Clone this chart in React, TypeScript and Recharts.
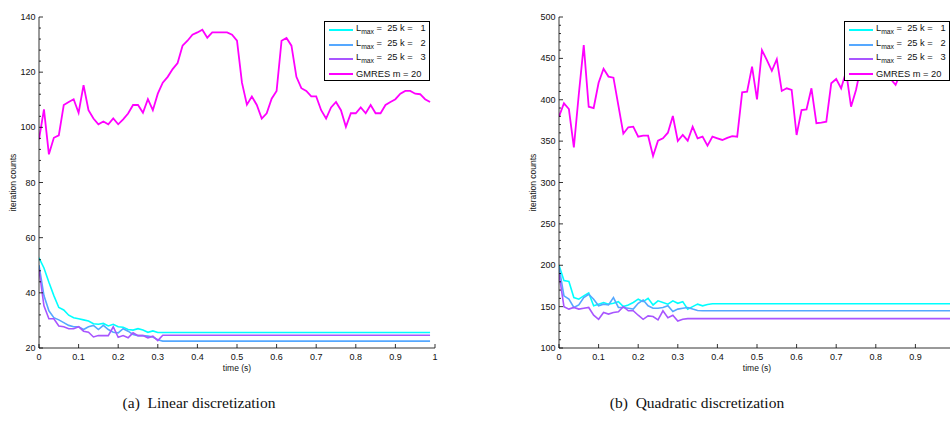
import React from 'react';
import { LineChart, Line, XAxis, YAxis, Legend, Label } from 'recharts';

// ---------- data ----------
const time = [
  0, 0.0125, 0.025, 0.0375, 0.05, 0.0625, 0.075, 0.0875, 0.1, 0.1125,
  0.125, 0.1375, 0.15, 0.1625, 0.175, 0.1875, 0.2, 0.2125, 0.225, 0.2375,
  0.25, 0.2625, 0.275, 0.2875, 0.3, 0.3125, 0.325, 0.3375, 0.35, 0.3625,
  0.375, 0.3875, 0.4, 0.4125, 0.425, 0.4375, 0.45, 0.4625, 0.475, 0.4875,
  0.5, 0.5125, 0.525, 0.5375, 0.55, 0.5625, 0.575, 0.5875, 0.6, 0.6125,
  0.625, 0.6375, 0.65, 0.6625, 0.675, 0.6875, 0.7, 0.7125, 0.725, 0.7375,
  0.75, 0.7625, 0.775, 0.7875, 0.8, 0.8125, 0.825, 0.8375, 0.85, 0.8625,
  0.875, 0.8875, 0.9, 0.9125, 0.925, 0.9375, 0.95, 0.9625, 0.975, 0.9875,
];

// (a) Linear discretization
const leftK1 = [
  52.7, 49, 43.8, 39, 34.7, 33.8, 31.9, 31, 30.6, 30.2,
  29.8, 28.8, 28.6, 28.9, 28, 28.6, 27.7, 27.5, 26.7, 26.5,
  27, 26.5, 25.7, 26.2, 25.6, 25.6, 25.6, 25.6, 25.6, 25.6,
  25.6, 25.6, 25.6, 25.6, 25.6, 25.6, 25.6, 25.6, 25.6, 25.6,
  25.6, 25.6, 25.6, 25.6, 25.6, 25.6, 25.6, 25.6, 25.6, 25.6,
  25.6, 25.6, 25.6, 25.6, 25.6, 25.6, 25.6, 25.6, 25.6, 25.6,
  25.6, 25.6, 25.6, 25.6, 25.6, 25.6, 25.6, 25.6, 25.6, 25.6,
  25.6, 25.6, 25.6, 25.6, 25.6, 25.6, 25.6, 25.6, 25.6, 25.6,
];
const leftK2 = [
  50, 39, 33.5, 31, 30.2, 29.2, 28.2, 27.7, 27.7, 26.7,
  27.7, 28.2, 26.7, 28.2, 26.7, 25.7, 25.5, 27, 26.1, 24.9,
  24.5, 24.5, 24.3, 24, 23, 22.5, 22.5, 22.5, 22.5, 22.5,
  22.5, 22.5, 22.5, 22.5, 22.5, 22.5, 22.5, 22.5, 22.5, 22.5,
  22.5, 22.5, 22.5, 22.5, 22.5, 22.5, 22.5, 22.5, 22.5, 22.5,
  22.5, 22.5, 22.5, 22.5, 22.5, 22.5, 22.5, 22.5, 22.5, 22.5,
  22.5, 22.5, 22.5, 22.5, 22.5, 22.5, 22.5, 22.5, 22.5, 22.5,
  22.5, 22.5, 22.5, 22.5, 22.5, 22.5, 22.5, 22.5, 22.5, 22.5,
];
const leftK3 = [
  48.5, 35.3, 30.6, 30.6, 28, 27.7, 27, 27, 27.7, 26.1,
  25.7, 24, 24.5, 24.5, 24.5, 27.7, 23.9, 24.5, 23.7, 25.5,
  24.5, 24.5, 23.7, 24.3, 22.7, 24.6, 24.6, 24.6, 24.6, 24.6,
  24.6, 24.6, 24.6, 24.6, 24.6, 24.6, 24.6, 24.6, 24.6, 24.6,
  24.6, 24.6, 24.6, 24.6, 24.6, 24.6, 24.6, 24.6, 24.6, 24.6,
  24.6, 24.6, 24.6, 24.6, 24.6, 24.6, 24.6, 24.6, 24.6, 24.6,
  24.6, 24.6, 24.6, 24.6, 24.6, 24.6, 24.6, 24.6, 24.6, 24.6,
  24.6, 24.6, 24.6, 24.6, 24.6, 24.6, 24.6, 24.6, 24.6, 24.6,
];
const leftGmres = [
  95.6, 106.5, 90.2, 96.2, 97.1, 108.1, 109.2, 110.2, 105.3, 115.3,
  106.2, 103.2, 101.1, 102.1, 101.1, 103.2, 101.1, 102.9, 105.0, 108.1,
  108.1, 105.3, 110.2, 106.2, 112.2, 116.2, 118.3, 121.1, 123.3, 129.6,
  131.4, 133.6, 134.4, 135.4, 132.5, 134.4, 134.4, 134.4, 134.4, 133.6,
  131.4, 116.2, 108.2, 111.2, 108.1, 103.2, 105.1, 110.4, 113.2, 131.4,
  132.4, 129.6, 118.3, 114.2, 113.2, 111.2, 111.2, 106.2, 103.2, 107.2,
  109.2, 106.2, 100.2, 105.1, 105.1, 107.2, 105.1, 108.1, 105.1, 105.1,
  108.1, 109.2, 110.2, 112.2, 113.2, 113.2, 112.2, 112.0, 110.2, 109.2,
];

// (b) Quadratic discretization
const rightK1 = [
  200, 181.6, 180.4, 161, 159, 163, 166.5, 151, 153, 155,
  153, 154, 156, 150, 152, 155, 159, 156, 160, 152,
  157, 155, 153, 157, 154, 156, 147, 150, 153, 151,
  152.6, 153.5, 153.5, 153.5, 153.5, 153.5, 153.5, 153.5, 153.5, 153.5,
  153.5, 153.5, 153.5, 153.5, 153.5, 153.5, 153.5, 153.5, 153.5, 153.5,
  153.5, 153.5, 153.5, 153.5, 153.5, 153.5, 153.5, 153.5, 153.5, 153.5,
  153.5, 153.5, 153.5, 153.5, 153.5, 153.5, 153.5, 153.5, 153.5, 153.5,
  153.5, 153.5, 153.5, 153.5, 153.5, 153.5, 153.5, 153.5, 153.5, 153.5,
];
const rightK2 = [
  198, 163, 159, 149, 152, 161, 165, 159, 151, 153,
  152, 161, 149, 149, 148, 147, 154, 158, 151, 148,
  148, 149, 151, 144, 147, 148, 149, 147, 145.3, 145,
  145, 145, 145, 145, 145, 145, 145, 145, 145, 145,
  145, 145, 145, 145, 145, 145, 145, 145, 145, 145,
  145, 145, 145, 145, 145, 145, 145, 145, 145, 145,
  145, 145, 145, 145, 145, 145, 145, 145, 145, 145,
  145, 145, 145, 145, 145, 145, 145, 145, 145, 145,
];
const rightK3 = [
  190, 150, 147, 149, 147, 148, 149, 139.6, 134.7, 143,
  141, 143, 143.7, 150, 145, 145, 139.6, 134.7, 138.8, 138,
  134, 145, 136.7, 139.6, 132.6, 134.7, 135.5, 135.5, 135.5, 135.5,
  135.5, 135.5, 135.5, 135.5, 135.5, 135.5, 135.5, 135.5, 135.5, 135.5,
  135.5, 135.5, 135.5, 135.5, 135.5, 135.5, 135.5, 135.5, 135.5, 135.5,
  135.5, 135.5, 135.5, 135.5, 135.5, 135.5, 135.5, 135.5, 135.5, 135.5,
  135.5, 135.5, 135.5, 135.5, 135.5, 135.5, 135.5, 135.5, 135.5, 135.5,
  135.5, 135.5, 135.5, 135.5, 135.5, 135.5, 135.5, 135.5, 135.5, 135.5,
];
const rightGmres = [
  379.5, 395.7, 388.8, 342.5, 406.6, 466, 391.6, 390, 420.6, 437.5,
  428, 426.7, 393, 359, 366.7, 367.5, 355.4, 356.6, 356.6, 332,
  350.5, 353.4, 360.2, 380.4, 350.2, 357.4, 350.5, 367.5, 353.4, 355.4,
  344.5, 355.4, 353.4, 351.4, 354, 356, 355.4, 409, 409.8, 440,
  400.5, 460, 448, 435, 449, 410.6, 413.8, 411.8, 357.4, 387.6,
  388.4, 413.8, 371.6, 372.4, 373.5, 419.9, 425.1, 413.8, 434, 391.6,
  411.8, 440, 455, 445, 430, 450, 438, 425, 418, 432,
  445, 452, 440, 448, 460, 450, 442, 455, 447, 438,
];

const xTicks = [0, 0.1, 0.2, 0.3, 0.4, 0.5, 0.6, 0.7, 0.8, 0.9, 1];
const leftXTickLabels = ['0', '0.1', '0.2', '0.3', '0.4', '0.5', '0.6', '0.7', '0.8', '0.9', '1'];
// the right panel's last tick label falls outside the picture
const rightXTickLabels = ['0', '0.1', '0.2', '0.3', '0.4', '0.5', '0.6', '0.7', '0.8', '0.9', ''];

const leftYTicks = [
  20, 24, 28, 32, 36, 40, 44, 48, 52, 56, 60, 64, 68, 72, 76, 80,
  84, 88, 92, 96, 100, 104, 108, 112, 116, 120, 124, 128, 132, 136, 140,
];
const leftYLabels = [20, 40, 60, 80, 100, 120, 140];
const rightYTicks = [
  100, 110, 120, 130, 140, 150, 160, 170, 180, 190, 200, 210, 220, 230, 240,
  250, 260, 270, 280, 290, 300, 310, 320, 330, 340, 350, 360, 370, 380, 390,
  400, 410, 420, 430, 440, 450, 460, 470, 480, 490, 500,
];
const rightYLabels = [100, 150, 200, 250, 300, 350, 400, 450, 500];

const seriesKeys = ['k1', 'k2', 'k3', 'g'];
const seriesColors = ['#00ffff', '#55a8ff', '#a855ff', '#ff00ff'];
const legendMain = ['L', 'L', 'L', 'GMRES m = 20'];
const legendSub = ['max', 'max', 'max', ''];
const legendRest = [' =  25 k =   1', ' =  25 k =   2', ' =  25 k =   3', ''];

const captions = ['(a)  Linear discretization', '(b)  Quadratic discretization'];

// ---------- helpers ----------
function buildRows(k1: number[], k2: number[], k3: number[], g: number[]) {
  return time.map((t, i) => ({ t, k1: k1[i], k2: k2[i], k3: k3[i], g: g[i] }));
}

const leftData = buildRows(leftK1, leftK2, leftK3, leftGmres);
const rightData = buildRows(rightK1, rightK2, rightK3, rightGmres);

const FONT = '"Liberation Sans", Arial, Helvetica, sans-serif';

const makeXTick = (labels: string[]) => (props: any) => {
  const { x, y, payload } = props;
  const i = xTicks.indexOf(payload.value);
  return (
    <g>
      <line x1={x} x2={x} y1={y} y2={y - 4} stroke="#000" strokeWidth={0.8} />
      {labels[i] && (
        <text x={x} y={y + 9} textAnchor="middle" dominantBaseline="central" fontSize={9} fontFamily={FONT} fill="#111">
          {labels[i]}
        </text>
      )}
    </g>
  );
};

const makeYTick = (labels: number[]) => (props: any) => {
  const { x, y, payload } = props;
  const major = labels.includes(payload.value);
  return (
    <g>
      <line x1={x} x2={x + (major ? 4 : 2)} y1={y} y2={y} stroke="#000" strokeWidth={0.8} />
      {major && (
        <text x={x - 3.5} y={y} textAnchor="end" dominantBaseline="central" fontSize={9} fontFamily={FONT} fill="#111">
          {payload.value}
        </text>
      )}
    </g>
  );
};

const renderLegend = () => (
  <div
    style={{
      boxSizing: 'border-box',
      width: 106,
      height: 60,
      border: '1px solid #000',
      background: '#fff',
      paddingTop: 1,
      fontFamily: FONT,
      fontSize: 9.3,
      color: '#111',
    }}
  >
    {seriesKeys.map((k, i) => (
      <div key={k} style={{ height: 14.5, display: 'flex', alignItems: 'center', whiteSpace: 'pre' }}>
        <div style={{ width: 24, height: 2, background: seriesColors[i], marginLeft: 4, marginRight: 3 }} />
        <span style={{ lineHeight: '10px' }}>
          {legendMain[i]}
          {legendSub[i] && <sub style={{ fontSize: 6.8, verticalAlign: -3 }}>{legendSub[i]}</sub>}
          {legendRest[i]}
        </span>
      </div>
    ))}
  </div>
);

function Panel(props: {
  data: any[];
  domain: [number, number];
  yTicks: number[];
  yLabels: number[];
  xLabels: string[];
  left: number;
}) {
  const { data, domain, yTicks, yLabels, xLabels, left } = props;
  const YTick = makeYTick(yLabels);
  const XTick = makeXTick(xLabels);
  return (
    <div style={{ position: 'absolute', left, top: 0 }}>
      <LineChart width={445} height={390} data={data} margin={{ top: 17, right: 10, bottom: 12, left: 8 }}>
        <XAxis
          dataKey="t"
          type="number"
          domain={[0, 1]}
          ticks={xTicks}
          interval={0}
          tickSize={0}
          tickMargin={0}
          tickLine={false}
          tick={XTick}
          axisLine={{ stroke: '#000', strokeWidth: 0.8 }}
          height={30}
          allowDataOverflow
        >
          <Label
            content={(p: any) => {
              const vb = p.viewBox;
              return (
                <text x={vb.x + vb.width / 2} y={vb.y + 20} textAnchor="middle" dominantBaseline="central" fontSize={8.5} fontFamily={FONT} fill="#111">
                  time (s)
                </text>
              );
            }}
          />
        </XAxis>
        <YAxis
          type="number"
          domain={domain}
          ticks={yTicks}
          interval={0}
          width={31}
          tickSize={0}
          tickMargin={0}
          tickLine={false}
          tick={YTick}
          axisLine={{ stroke: '#000', strokeWidth: 0.8 }}
          allowDataOverflow
        >
          <Label
            content={(p: any) => {
              const vb = p.viewBox;
              const cx = vb.x + 5;
              const cy = vb.y + vb.height / 2;
              return (
                <text x={cx} y={cy} transform={`rotate(-90 ${cx} ${cy})`} textAnchor="middle" dominantBaseline="central" fontSize={8.5} fontFamily={FONT} fill="#111">
                  iteration counts
                </text>
              );
            }}
          />
        </YAxis>
        <Legend
          layout="horizontal"
          verticalAlign="middle"
          align="center"
          content={renderLegend}
          wrapperStyle={{ position: 'absolute', left: 324, top: 21, width: 106, height: 60 }}
        />
        {seriesKeys.map((k, i) => (
          <Line
            key={k}
            type="linear"
            dataKey={k}
            stroke={seriesColors[i]}
            strokeWidth={k === 'g' ? 1.8 : 1.6}
            dot={false}
            activeDot={false}
            isAnimationActive={false}
          />
        ))}
      </LineChart>
    </div>
  );
}

const captionStyle: React.CSSProperties = {
  position: 'absolute',
  top: 394,
  width: 200,
  textAlign: 'center',
  fontFamily: '"Liberation Serif", "Times New Roman", serif',
  fontSize: 15.5,
  color: '#111',
  whiteSpace: 'pre',
};

export default function App() {
  return (
    <div style={{ position: 'absolute', left: 0, top: 0, width: 950, height: 434, overflow: 'hidden', background: '#fff' }}>
      <Panel data={leftData} domain={[20, 140]} yTicks={leftYTicks} yLabels={leftYLabels} xLabels={leftXTickLabels} left={0} />
      <Panel data={rightData} domain={[100, 500]} yTicks={rightYTicks} yLabels={rightYLabels} xLabels={rightXTickLabels} left={520} />
      <div style={{ ...captionStyle, left: 99 }}>{captions[0]}</div>
      <div style={{ ...captionStyle, left: 597 }}>{captions[1]}</div>
    </div>
  );
}
